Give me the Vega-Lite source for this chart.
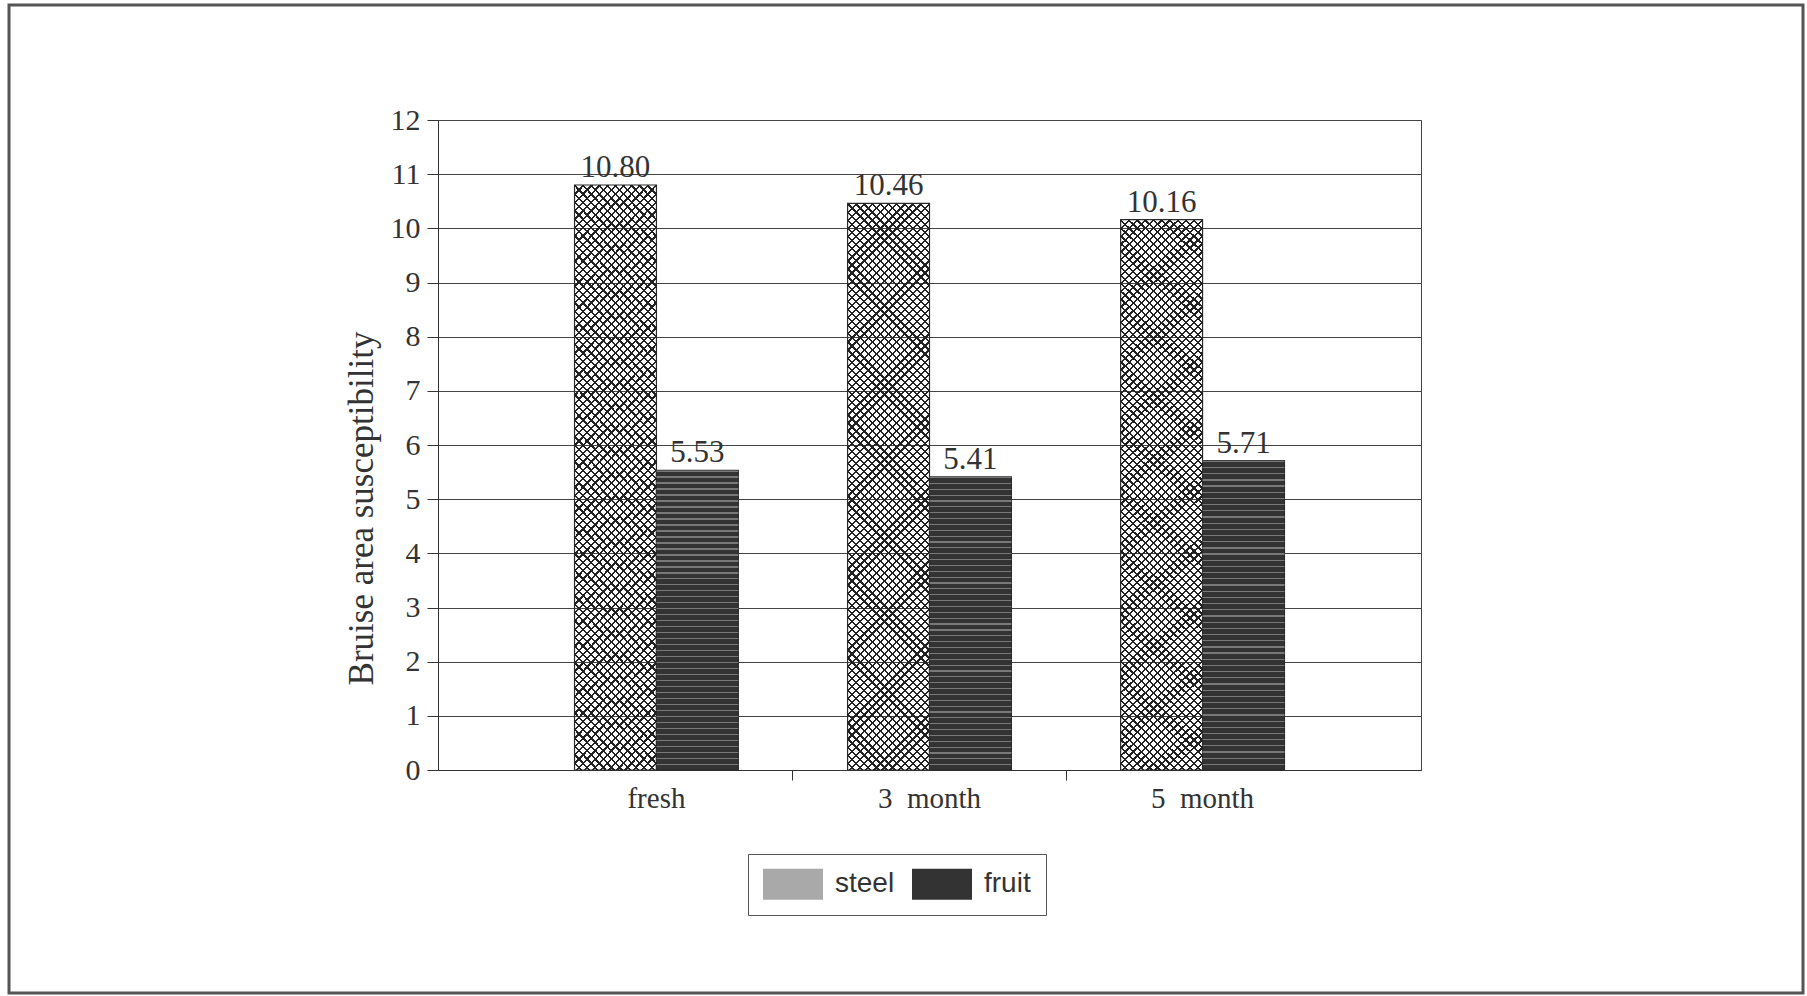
{
  "$schema": "https://vega.github.io/schema/vega-lite/v6.json",
  "width": 983,
  "height": 650,
  "autosize": {"type": "none"},
  "padding": {"left": 438, "top": 120, "right": 386, "bottom": 226},
  "background": "white",
  "config": {
    "view": {"stroke": "#444", "strokeWidth": 1},
    "legend": {"gradientVerticalMaxLength": 3000, "gradientVerticalMinLength": 10}
  },
  "data": {
    "values": [
      {"age": "fresh", "method": "steel", "value": 10.80},
      {"age": "fresh", "method": "fruit", "value": 5.53},
      {"age": "3 month", "method": "steel", "value": 10.46},
      {"age": "3 month", "method": "fruit", "value": 5.41},
      {"age": "5 month", "method": "steel", "value": 10.16},
      {"age": "5 month", "method": "fruit", "value": 5.71}
    ]
  },
  "encoding": {
    "x": {
      "field": "age", "type": "nominal", "sort": ["fresh", "3 month", "5 month"],
      "scale": {"paddingInner": 0.4, "paddingOuter": 0.5},
      "axis": {
        "title": null, "labelAngle": 0, "labelFont": "Liberation Serif", "labelFontSize": 29,
        "labelExpr": "replace(datum.label, ' ', '\u2002')",
        "labelColor": "#333", "tickSize": 10, "labelPadding": 4, "bandPosition": -0.3333,
        "tickOpacity": {"condition": {"test": "datum.value === 'fresh'", "value": 0}, "value": 1},
        "domainColor": "#333", "tickColor": "#333", "grid": false
      }
    },
    "xOffset": {
      "field": "method", "type": "nominal",
      "scale": {"domain": ["steel", "fruit"], "paddingInner": 0, "paddingOuter": 0}
    },
    "y": {
      "field": "value", "type": "quantitative",
      "scale": {"domain": [0, 12], "nice": false},
      "axis": {
        "values": [0, 1, 2, 3, 4, 5, 6, 7, 8, 9, 10, 11, 12],
        "grid": true, "gridColor": "#444", "gridWidth": 1, "gridOpacity": 1,
        "domainColor": "#333", "tickColor": "#333", "tickSize": 11, "labelPadding": 7,
        "labelFont": "Liberation Serif", "labelFontSize": 30, "labelColor": "#333",
        "title": "Bruise area susceptibility", "titleFont": "Liberation Serif", "titleFontSize": 35,
        "titleFontWeight": "normal", "titleColor": "#333", "titlePadding": 11, "titleY": 388
      }
    }
  },
  "layer": [
    {
      "mark": {"type": "bar", "stroke": "#2b2b2b", "strokeWidth": 1.2},
      "encoding": {
        "fillOpacity": {"condition": {"test": "datum.method === 'steel'", "value": 0}, "value": 1},
        "color": {
          "field": "method", "type": "nominal",
          "scale": {"domain": ["steel", "fruit"], "range": ["#a9a9a9", "#333333"]},
          "legend": {
            "title": null, "orient": "none", "legendX": 310, "legendY": 734, "direction": "horizontal",
            "strokeColor": "#555", "padding": 15,
            "symbolType": "M-2,-1.03H2V1.03H-2Z", "symbolSize": 900, "symbolOffset": 15, "symbolStrokeWidth": 0,
            "symbolOpacity": 1,
            "labelFont": "Liberation Sans", "labelFontSize": 28, "labelColor": "#333",
            "labelOffset": 27, "columnPadding": 17
          }
        }
      }
    },
    {
      "transform": [{"filter": "datum.method === 'steel'"}],
      "mark": {"type": "bar", "strokeWidth": 0, "fill": {"gradient": "linear", "x1": 0, "y1": 0, "x2": 0.16205, "y2": 1.1211, "stops": [
{"offset":0,"color":"#222"},{"offset":0.0035,"color":"#222"},{"offset":0.0035,"color":"rgba(0,0,0,0)"},{"offset":0.0125,"color":"rgba(0,0,0,0)"},
{"offset":0.0125,"color":"#222"},{"offset":0.016,"color":"#222"},{"offset":0.016,"color":"rgba(0,0,0,0)"},{"offset":0.025,"color":"rgba(0,0,0,0)"},
{"offset":0.025,"color":"#222"},{"offset":0.0285,"color":"#222"},{"offset":0.0285,"color":"rgba(0,0,0,0)"},{"offset":0.0375,"color":"rgba(0,0,0,0)"},
{"offset":0.0375,"color":"#222"},{"offset":0.041,"color":"#222"},{"offset":0.041,"color":"rgba(0,0,0,0)"},{"offset":0.05,"color":"rgba(0,0,0,0)"},
{"offset":0.05,"color":"#222"},{"offset":0.0535,"color":"#222"},{"offset":0.0535,"color":"rgba(0,0,0,0)"},{"offset":0.0625,"color":"rgba(0,0,0,0)"},
{"offset":0.0625,"color":"#222"},{"offset":0.066,"color":"#222"},{"offset":0.066,"color":"rgba(0,0,0,0)"},{"offset":0.075,"color":"rgba(0,0,0,0)"},
{"offset":0.075,"color":"#222"},{"offset":0.0785,"color":"#222"},{"offset":0.0785,"color":"rgba(0,0,0,0)"},{"offset":0.0875,"color":"rgba(0,0,0,0)"},
{"offset":0.0875,"color":"#222"},{"offset":0.091,"color":"#222"},{"offset":0.091,"color":"rgba(0,0,0,0)"},{"offset":0.1,"color":"rgba(0,0,0,0)"},
{"offset":0.1,"color":"#222"},{"offset":0.1035,"color":"#222"},{"offset":0.1035,"color":"rgba(0,0,0,0)"},{"offset":0.1125,"color":"rgba(0,0,0,0)"},
{"offset":0.1125,"color":"#222"},{"offset":0.116,"color":"#222"},{"offset":0.116,"color":"rgba(0,0,0,0)"},{"offset":0.125,"color":"rgba(0,0,0,0)"},
{"offset":0.125,"color":"#222"},{"offset":0.1285,"color":"#222"},{"offset":0.1285,"color":"rgba(0,0,0,0)"},{"offset":0.1375,"color":"rgba(0,0,0,0)"},
{"offset":0.1375,"color":"#222"},{"offset":0.141,"color":"#222"},{"offset":0.141,"color":"rgba(0,0,0,0)"},{"offset":0.15,"color":"rgba(0,0,0,0)"},
{"offset":0.15,"color":"#222"},{"offset":0.1535,"color":"#222"},{"offset":0.1535,"color":"rgba(0,0,0,0)"},{"offset":0.1625,"color":"rgba(0,0,0,0)"},
{"offset":0.1625,"color":"#222"},{"offset":0.166,"color":"#222"},{"offset":0.166,"color":"rgba(0,0,0,0)"},{"offset":0.175,"color":"rgba(0,0,0,0)"},
{"offset":0.175,"color":"#222"},{"offset":0.1785,"color":"#222"},{"offset":0.1785,"color":"rgba(0,0,0,0)"},{"offset":0.1875,"color":"rgba(0,0,0,0)"},
{"offset":0.1875,"color":"#222"},{"offset":0.191,"color":"#222"},{"offset":0.191,"color":"rgba(0,0,0,0)"},{"offset":0.2,"color":"rgba(0,0,0,0)"},
{"offset":0.2,"color":"#222"},{"offset":0.2035,"color":"#222"},{"offset":0.2035,"color":"rgba(0,0,0,0)"},{"offset":0.2125,"color":"rgba(0,0,0,0)"},
{"offset":0.2125,"color":"#222"},{"offset":0.216,"color":"#222"},{"offset":0.216,"color":"rgba(0,0,0,0)"},{"offset":0.225,"color":"rgba(0,0,0,0)"},
{"offset":0.225,"color":"#222"},{"offset":0.2285,"color":"#222"},{"offset":0.2285,"color":"rgba(0,0,0,0)"},{"offset":0.2375,"color":"rgba(0,0,0,0)"},
{"offset":0.2375,"color":"#222"},{"offset":0.241,"color":"#222"},{"offset":0.241,"color":"rgba(0,0,0,0)"},{"offset":0.25,"color":"rgba(0,0,0,0)"},
{"offset":0.25,"color":"#222"},{"offset":0.2535,"color":"#222"},{"offset":0.2535,"color":"rgba(0,0,0,0)"},{"offset":0.2625,"color":"rgba(0,0,0,0)"},
{"offset":0.2625,"color":"#222"},{"offset":0.266,"color":"#222"},{"offset":0.266,"color":"rgba(0,0,0,0)"},{"offset":0.275,"color":"rgba(0,0,0,0)"},
{"offset":0.275,"color":"#222"},{"offset":0.2785,"color":"#222"},{"offset":0.2785,"color":"rgba(0,0,0,0)"},{"offset":0.2875,"color":"rgba(0,0,0,0)"},
{"offset":0.2875,"color":"#222"},{"offset":0.291,"color":"#222"},{"offset":0.291,"color":"rgba(0,0,0,0)"},{"offset":0.3,"color":"rgba(0,0,0,0)"},
{"offset":0.3,"color":"#222"},{"offset":0.3035,"color":"#222"},{"offset":0.3035,"color":"rgba(0,0,0,0)"},{"offset":0.3125,"color":"rgba(0,0,0,0)"},
{"offset":0.3125,"color":"#222"},{"offset":0.316,"color":"#222"},{"offset":0.316,"color":"rgba(0,0,0,0)"},{"offset":0.325,"color":"rgba(0,0,0,0)"},
{"offset":0.325,"color":"#222"},{"offset":0.3285,"color":"#222"},{"offset":0.3285,"color":"rgba(0,0,0,0)"},{"offset":0.3375,"color":"rgba(0,0,0,0)"},
{"offset":0.3375,"color":"#222"},{"offset":0.341,"color":"#222"},{"offset":0.341,"color":"rgba(0,0,0,0)"},{"offset":0.35,"color":"rgba(0,0,0,0)"},
{"offset":0.35,"color":"#222"},{"offset":0.3535,"color":"#222"},{"offset":0.3535,"color":"rgba(0,0,0,0)"},{"offset":0.3625,"color":"rgba(0,0,0,0)"},
{"offset":0.3625,"color":"#222"},{"offset":0.366,"color":"#222"},{"offset":0.366,"color":"rgba(0,0,0,0)"},{"offset":0.375,"color":"rgba(0,0,0,0)"},
{"offset":0.375,"color":"#222"},{"offset":0.3785,"color":"#222"},{"offset":0.3785,"color":"rgba(0,0,0,0)"},{"offset":0.3875,"color":"rgba(0,0,0,0)"},
{"offset":0.3875,"color":"#222"},{"offset":0.391,"color":"#222"},{"offset":0.391,"color":"rgba(0,0,0,0)"},{"offset":0.4,"color":"rgba(0,0,0,0)"},
{"offset":0.4,"color":"#222"},{"offset":0.4035,"color":"#222"},{"offset":0.4035,"color":"rgba(0,0,0,0)"},{"offset":0.4125,"color":"rgba(0,0,0,0)"},
{"offset":0.4125,"color":"#222"},{"offset":0.416,"color":"#222"},{"offset":0.416,"color":"rgba(0,0,0,0)"},{"offset":0.425,"color":"rgba(0,0,0,0)"},
{"offset":0.425,"color":"#222"},{"offset":0.4285,"color":"#222"},{"offset":0.4285,"color":"rgba(0,0,0,0)"},{"offset":0.4375,"color":"rgba(0,0,0,0)"},
{"offset":0.4375,"color":"#222"},{"offset":0.441,"color":"#222"},{"offset":0.441,"color":"rgba(0,0,0,0)"},{"offset":0.45,"color":"rgba(0,0,0,0)"},
{"offset":0.45,"color":"#222"},{"offset":0.4535,"color":"#222"},{"offset":0.4535,"color":"rgba(0,0,0,0)"},{"offset":0.4625,"color":"rgba(0,0,0,0)"},
{"offset":0.4625,"color":"#222"},{"offset":0.466,"color":"#222"},{"offset":0.466,"color":"rgba(0,0,0,0)"},{"offset":0.475,"color":"rgba(0,0,0,0)"},
{"offset":0.475,"color":"#222"},{"offset":0.4785,"color":"#222"},{"offset":0.4785,"color":"rgba(0,0,0,0)"},{"offset":0.4875,"color":"rgba(0,0,0,0)"},
{"offset":0.4875,"color":"#222"},{"offset":0.491,"color":"#222"},{"offset":0.491,"color":"rgba(0,0,0,0)"},{"offset":0.5,"color":"rgba(0,0,0,0)"},
{"offset":0.5,"color":"#222"},{"offset":0.5035,"color":"#222"},{"offset":0.5035,"color":"rgba(0,0,0,0)"},{"offset":0.5125,"color":"rgba(0,0,0,0)"},
{"offset":0.5125,"color":"#222"},{"offset":0.516,"color":"#222"},{"offset":0.516,"color":"rgba(0,0,0,0)"},{"offset":0.525,"color":"rgba(0,0,0,0)"},
{"offset":0.525,"color":"#222"},{"offset":0.5285,"color":"#222"},{"offset":0.5285,"color":"rgba(0,0,0,0)"},{"offset":0.5375,"color":"rgba(0,0,0,0)"},
{"offset":0.5375,"color":"#222"},{"offset":0.541,"color":"#222"},{"offset":0.541,"color":"rgba(0,0,0,0)"},{"offset":0.55,"color":"rgba(0,0,0,0)"},
{"offset":0.55,"color":"#222"},{"offset":0.5535,"color":"#222"},{"offset":0.5535,"color":"rgba(0,0,0,0)"},{"offset":0.5625,"color":"rgba(0,0,0,0)"},
{"offset":0.5625,"color":"#222"},{"offset":0.566,"color":"#222"},{"offset":0.566,"color":"rgba(0,0,0,0)"},{"offset":0.575,"color":"rgba(0,0,0,0)"},
{"offset":0.575,"color":"#222"},{"offset":0.5785,"color":"#222"},{"offset":0.5785,"color":"rgba(0,0,0,0)"},{"offset":0.5875,"color":"rgba(0,0,0,0)"},
{"offset":0.5875,"color":"#222"},{"offset":0.591,"color":"#222"},{"offset":0.591,"color":"rgba(0,0,0,0)"},{"offset":0.6,"color":"rgba(0,0,0,0)"},
{"offset":0.6,"color":"#222"},{"offset":0.6035,"color":"#222"},{"offset":0.6035,"color":"rgba(0,0,0,0)"},{"offset":0.6125,"color":"rgba(0,0,0,0)"},
{"offset":0.6125,"color":"#222"},{"offset":0.616,"color":"#222"},{"offset":0.616,"color":"rgba(0,0,0,0)"},{"offset":0.625,"color":"rgba(0,0,0,0)"},
{"offset":0.625,"color":"#222"},{"offset":0.6285,"color":"#222"},{"offset":0.6285,"color":"rgba(0,0,0,0)"},{"offset":0.6375,"color":"rgba(0,0,0,0)"},
{"offset":0.6375,"color":"#222"},{"offset":0.641,"color":"#222"},{"offset":0.641,"color":"rgba(0,0,0,0)"},{"offset":0.65,"color":"rgba(0,0,0,0)"},
{"offset":0.65,"color":"#222"},{"offset":0.6535,"color":"#222"},{"offset":0.6535,"color":"rgba(0,0,0,0)"},{"offset":0.6625,"color":"rgba(0,0,0,0)"},
{"offset":0.6625,"color":"#222"},{"offset":0.666,"color":"#222"},{"offset":0.666,"color":"rgba(0,0,0,0)"},{"offset":0.675,"color":"rgba(0,0,0,0)"},
{"offset":0.675,"color":"#222"},{"offset":0.6785,"color":"#222"},{"offset":0.6785,"color":"rgba(0,0,0,0)"},{"offset":0.6875,"color":"rgba(0,0,0,0)"},
{"offset":0.6875,"color":"#222"},{"offset":0.691,"color":"#222"},{"offset":0.691,"color":"rgba(0,0,0,0)"},{"offset":0.7,"color":"rgba(0,0,0,0)"},
{"offset":0.7,"color":"#222"},{"offset":0.7035,"color":"#222"},{"offset":0.7035,"color":"rgba(0,0,0,0)"},{"offset":0.7125,"color":"rgba(0,0,0,0)"},
{"offset":0.7125,"color":"#222"},{"offset":0.716,"color":"#222"},{"offset":0.716,"color":"rgba(0,0,0,0)"},{"offset":0.725,"color":"rgba(0,0,0,0)"},
{"offset":0.725,"color":"#222"},{"offset":0.7285,"color":"#222"},{"offset":0.7285,"color":"rgba(0,0,0,0)"},{"offset":0.7375,"color":"rgba(0,0,0,0)"},
{"offset":0.7375,"color":"#222"},{"offset":0.741,"color":"#222"},{"offset":0.741,"color":"rgba(0,0,0,0)"},{"offset":0.75,"color":"rgba(0,0,0,0)"},
{"offset":0.75,"color":"#222"},{"offset":0.7535,"color":"#222"},{"offset":0.7535,"color":"rgba(0,0,0,0)"},{"offset":0.7625,"color":"rgba(0,0,0,0)"},
{"offset":0.7625,"color":"#222"},{"offset":0.766,"color":"#222"},{"offset":0.766,"color":"rgba(0,0,0,0)"},{"offset":0.775,"color":"rgba(0,0,0,0)"},
{"offset":0.775,"color":"#222"},{"offset":0.7785,"color":"#222"},{"offset":0.7785,"color":"rgba(0,0,0,0)"},{"offset":0.7875,"color":"rgba(0,0,0,0)"},
{"offset":0.7875,"color":"#222"},{"offset":0.791,"color":"#222"},{"offset":0.791,"color":"rgba(0,0,0,0)"},{"offset":0.8,"color":"rgba(0,0,0,0)"},
{"offset":0.8,"color":"#222"},{"offset":0.8035,"color":"#222"},{"offset":0.8035,"color":"rgba(0,0,0,0)"},{"offset":0.8125,"color":"rgba(0,0,0,0)"},
{"offset":0.8125,"color":"#222"},{"offset":0.816,"color":"#222"},{"offset":0.816,"color":"rgba(0,0,0,0)"},{"offset":0.825,"color":"rgba(0,0,0,0)"},
{"offset":0.825,"color":"#222"},{"offset":0.8285,"color":"#222"},{"offset":0.8285,"color":"rgba(0,0,0,0)"},{"offset":0.8375,"color":"rgba(0,0,0,0)"},
{"offset":0.8375,"color":"#222"},{"offset":0.841,"color":"#222"},{"offset":0.841,"color":"rgba(0,0,0,0)"},{"offset":0.85,"color":"rgba(0,0,0,0)"},
{"offset":0.85,"color":"#222"},{"offset":0.8535,"color":"#222"},{"offset":0.8535,"color":"rgba(0,0,0,0)"},{"offset":0.8625,"color":"rgba(0,0,0,0)"},
{"offset":0.8625,"color":"#222"},{"offset":0.866,"color":"#222"},{"offset":0.866,"color":"rgba(0,0,0,0)"},{"offset":0.875,"color":"rgba(0,0,0,0)"},
{"offset":0.875,"color":"#222"},{"offset":0.8785,"color":"#222"},{"offset":0.8785,"color":"rgba(0,0,0,0)"},{"offset":0.8875,"color":"rgba(0,0,0,0)"},
{"offset":0.8875,"color":"#222"},{"offset":0.891,"color":"#222"},{"offset":0.891,"color":"rgba(0,0,0,0)"},{"offset":0.9,"color":"rgba(0,0,0,0)"},
{"offset":0.9,"color":"#222"},{"offset":0.9035,"color":"#222"},{"offset":0.9035,"color":"rgba(0,0,0,0)"},{"offset":0.9125,"color":"rgba(0,0,0,0)"},
{"offset":0.9125,"color":"#222"},{"offset":0.916,"color":"#222"},{"offset":0.916,"color":"rgba(0,0,0,0)"},{"offset":0.925,"color":"rgba(0,0,0,0)"},
{"offset":0.925,"color":"#222"},{"offset":0.9285,"color":"#222"},{"offset":0.9285,"color":"rgba(0,0,0,0)"},{"offset":0.9375,"color":"rgba(0,0,0,0)"},
{"offset":0.9375,"color":"#222"},{"offset":0.941,"color":"#222"},{"offset":0.941,"color":"rgba(0,0,0,0)"},{"offset":0.95,"color":"rgba(0,0,0,0)"},
{"offset":0.95,"color":"#222"},{"offset":0.9535,"color":"#222"},{"offset":0.9535,"color":"rgba(0,0,0,0)"},{"offset":0.9625,"color":"rgba(0,0,0,0)"},
{"offset":0.9625,"color":"#222"},{"offset":0.966,"color":"#222"},{"offset":0.966,"color":"rgba(0,0,0,0)"},{"offset":0.975,"color":"rgba(0,0,0,0)"},
{"offset":0.975,"color":"#222"},{"offset":0.9785,"color":"#222"},{"offset":0.9785,"color":"rgba(0,0,0,0)"},{"offset":0.9875,"color":"rgba(0,0,0,0)"},
{"offset":0.9875,"color":"#222"},{"offset":0.991,"color":"#222"},{"offset":0.991,"color":"rgba(0,0,0,0)"},{"offset":1,"color":"rgba(0,0,0,0)"}
      ]}}
    },
    {
      "transform": [{"filter": "datum.method === 'steel'"}],
      "mark": {"type": "bar", "strokeWidth": 0, "fill": {"gradient": "linear", "x1": 1, "y1": 0, "x2": 0.83795, "y2": 1.1211, "stops": [
{"offset":0,"color":"#222"},{"offset":0.0035,"color":"#222"},{"offset":0.0035,"color":"rgba(0,0,0,0)"},{"offset":0.0125,"color":"rgba(0,0,0,0)"},
{"offset":0.0125,"color":"#222"},{"offset":0.016,"color":"#222"},{"offset":0.016,"color":"rgba(0,0,0,0)"},{"offset":0.025,"color":"rgba(0,0,0,0)"},
{"offset":0.025,"color":"#222"},{"offset":0.0285,"color":"#222"},{"offset":0.0285,"color":"rgba(0,0,0,0)"},{"offset":0.0375,"color":"rgba(0,0,0,0)"},
{"offset":0.0375,"color":"#222"},{"offset":0.041,"color":"#222"},{"offset":0.041,"color":"rgba(0,0,0,0)"},{"offset":0.05,"color":"rgba(0,0,0,0)"},
{"offset":0.05,"color":"#222"},{"offset":0.0535,"color":"#222"},{"offset":0.0535,"color":"rgba(0,0,0,0)"},{"offset":0.0625,"color":"rgba(0,0,0,0)"},
{"offset":0.0625,"color":"#222"},{"offset":0.066,"color":"#222"},{"offset":0.066,"color":"rgba(0,0,0,0)"},{"offset":0.075,"color":"rgba(0,0,0,0)"},
{"offset":0.075,"color":"#222"},{"offset":0.0785,"color":"#222"},{"offset":0.0785,"color":"rgba(0,0,0,0)"},{"offset":0.0875,"color":"rgba(0,0,0,0)"},
{"offset":0.0875,"color":"#222"},{"offset":0.091,"color":"#222"},{"offset":0.091,"color":"rgba(0,0,0,0)"},{"offset":0.1,"color":"rgba(0,0,0,0)"},
{"offset":0.1,"color":"#222"},{"offset":0.1035,"color":"#222"},{"offset":0.1035,"color":"rgba(0,0,0,0)"},{"offset":0.1125,"color":"rgba(0,0,0,0)"},
{"offset":0.1125,"color":"#222"},{"offset":0.116,"color":"#222"},{"offset":0.116,"color":"rgba(0,0,0,0)"},{"offset":0.125,"color":"rgba(0,0,0,0)"},
{"offset":0.125,"color":"#222"},{"offset":0.1285,"color":"#222"},{"offset":0.1285,"color":"rgba(0,0,0,0)"},{"offset":0.1375,"color":"rgba(0,0,0,0)"},
{"offset":0.1375,"color":"#222"},{"offset":0.141,"color":"#222"},{"offset":0.141,"color":"rgba(0,0,0,0)"},{"offset":0.15,"color":"rgba(0,0,0,0)"},
{"offset":0.15,"color":"#222"},{"offset":0.1535,"color":"#222"},{"offset":0.1535,"color":"rgba(0,0,0,0)"},{"offset":0.1625,"color":"rgba(0,0,0,0)"},
{"offset":0.1625,"color":"#222"},{"offset":0.166,"color":"#222"},{"offset":0.166,"color":"rgba(0,0,0,0)"},{"offset":0.175,"color":"rgba(0,0,0,0)"},
{"offset":0.175,"color":"#222"},{"offset":0.1785,"color":"#222"},{"offset":0.1785,"color":"rgba(0,0,0,0)"},{"offset":0.1875,"color":"rgba(0,0,0,0)"},
{"offset":0.1875,"color":"#222"},{"offset":0.191,"color":"#222"},{"offset":0.191,"color":"rgba(0,0,0,0)"},{"offset":0.2,"color":"rgba(0,0,0,0)"},
{"offset":0.2,"color":"#222"},{"offset":0.2035,"color":"#222"},{"offset":0.2035,"color":"rgba(0,0,0,0)"},{"offset":0.2125,"color":"rgba(0,0,0,0)"},
{"offset":0.2125,"color":"#222"},{"offset":0.216,"color":"#222"},{"offset":0.216,"color":"rgba(0,0,0,0)"},{"offset":0.225,"color":"rgba(0,0,0,0)"},
{"offset":0.225,"color":"#222"},{"offset":0.2285,"color":"#222"},{"offset":0.2285,"color":"rgba(0,0,0,0)"},{"offset":0.2375,"color":"rgba(0,0,0,0)"},
{"offset":0.2375,"color":"#222"},{"offset":0.241,"color":"#222"},{"offset":0.241,"color":"rgba(0,0,0,0)"},{"offset":0.25,"color":"rgba(0,0,0,0)"},
{"offset":0.25,"color":"#222"},{"offset":0.2535,"color":"#222"},{"offset":0.2535,"color":"rgba(0,0,0,0)"},{"offset":0.2625,"color":"rgba(0,0,0,0)"},
{"offset":0.2625,"color":"#222"},{"offset":0.266,"color":"#222"},{"offset":0.266,"color":"rgba(0,0,0,0)"},{"offset":0.275,"color":"rgba(0,0,0,0)"},
{"offset":0.275,"color":"#222"},{"offset":0.2785,"color":"#222"},{"offset":0.2785,"color":"rgba(0,0,0,0)"},{"offset":0.2875,"color":"rgba(0,0,0,0)"},
{"offset":0.2875,"color":"#222"},{"offset":0.291,"color":"#222"},{"offset":0.291,"color":"rgba(0,0,0,0)"},{"offset":0.3,"color":"rgba(0,0,0,0)"},
{"offset":0.3,"color":"#222"},{"offset":0.3035,"color":"#222"},{"offset":0.3035,"color":"rgba(0,0,0,0)"},{"offset":0.3125,"color":"rgba(0,0,0,0)"},
{"offset":0.3125,"color":"#222"},{"offset":0.316,"color":"#222"},{"offset":0.316,"color":"rgba(0,0,0,0)"},{"offset":0.325,"color":"rgba(0,0,0,0)"},
{"offset":0.325,"color":"#222"},{"offset":0.3285,"color":"#222"},{"offset":0.3285,"color":"rgba(0,0,0,0)"},{"offset":0.3375,"color":"rgba(0,0,0,0)"},
{"offset":0.3375,"color":"#222"},{"offset":0.341,"color":"#222"},{"offset":0.341,"color":"rgba(0,0,0,0)"},{"offset":0.35,"color":"rgba(0,0,0,0)"},
{"offset":0.35,"color":"#222"},{"offset":0.3535,"color":"#222"},{"offset":0.3535,"color":"rgba(0,0,0,0)"},{"offset":0.3625,"color":"rgba(0,0,0,0)"},
{"offset":0.3625,"color":"#222"},{"offset":0.366,"color":"#222"},{"offset":0.366,"color":"rgba(0,0,0,0)"},{"offset":0.375,"color":"rgba(0,0,0,0)"},
{"offset":0.375,"color":"#222"},{"offset":0.3785,"color":"#222"},{"offset":0.3785,"color":"rgba(0,0,0,0)"},{"offset":0.3875,"color":"rgba(0,0,0,0)"},
{"offset":0.3875,"color":"#222"},{"offset":0.391,"color":"#222"},{"offset":0.391,"color":"rgba(0,0,0,0)"},{"offset":0.4,"color":"rgba(0,0,0,0)"},
{"offset":0.4,"color":"#222"},{"offset":0.4035,"color":"#222"},{"offset":0.4035,"color":"rgba(0,0,0,0)"},{"offset":0.4125,"color":"rgba(0,0,0,0)"},
{"offset":0.4125,"color":"#222"},{"offset":0.416,"color":"#222"},{"offset":0.416,"color":"rgba(0,0,0,0)"},{"offset":0.425,"color":"rgba(0,0,0,0)"},
{"offset":0.425,"color":"#222"},{"offset":0.4285,"color":"#222"},{"offset":0.4285,"color":"rgba(0,0,0,0)"},{"offset":0.4375,"color":"rgba(0,0,0,0)"},
{"offset":0.4375,"color":"#222"},{"offset":0.441,"color":"#222"},{"offset":0.441,"color":"rgba(0,0,0,0)"},{"offset":0.45,"color":"rgba(0,0,0,0)"},
{"offset":0.45,"color":"#222"},{"offset":0.4535,"color":"#222"},{"offset":0.4535,"color":"rgba(0,0,0,0)"},{"offset":0.4625,"color":"rgba(0,0,0,0)"},
{"offset":0.4625,"color":"#222"},{"offset":0.466,"color":"#222"},{"offset":0.466,"color":"rgba(0,0,0,0)"},{"offset":0.475,"color":"rgba(0,0,0,0)"},
{"offset":0.475,"color":"#222"},{"offset":0.4785,"color":"#222"},{"offset":0.4785,"color":"rgba(0,0,0,0)"},{"offset":0.4875,"color":"rgba(0,0,0,0)"},
{"offset":0.4875,"color":"#222"},{"offset":0.491,"color":"#222"},{"offset":0.491,"color":"rgba(0,0,0,0)"},{"offset":0.5,"color":"rgba(0,0,0,0)"},
{"offset":0.5,"color":"#222"},{"offset":0.5035,"color":"#222"},{"offset":0.5035,"color":"rgba(0,0,0,0)"},{"offset":0.5125,"color":"rgba(0,0,0,0)"},
{"offset":0.5125,"color":"#222"},{"offset":0.516,"color":"#222"},{"offset":0.516,"color":"rgba(0,0,0,0)"},{"offset":0.525,"color":"rgba(0,0,0,0)"},
{"offset":0.525,"color":"#222"},{"offset":0.5285,"color":"#222"},{"offset":0.5285,"color":"rgba(0,0,0,0)"},{"offset":0.5375,"color":"rgba(0,0,0,0)"},
{"offset":0.5375,"color":"#222"},{"offset":0.541,"color":"#222"},{"offset":0.541,"color":"rgba(0,0,0,0)"},{"offset":0.55,"color":"rgba(0,0,0,0)"},
{"offset":0.55,"color":"#222"},{"offset":0.5535,"color":"#222"},{"offset":0.5535,"color":"rgba(0,0,0,0)"},{"offset":0.5625,"color":"rgba(0,0,0,0)"},
{"offset":0.5625,"color":"#222"},{"offset":0.566,"color":"#222"},{"offset":0.566,"color":"rgba(0,0,0,0)"},{"offset":0.575,"color":"rgba(0,0,0,0)"},
{"offset":0.575,"color":"#222"},{"offset":0.5785,"color":"#222"},{"offset":0.5785,"color":"rgba(0,0,0,0)"},{"offset":0.5875,"color":"rgba(0,0,0,0)"},
{"offset":0.5875,"color":"#222"},{"offset":0.591,"color":"#222"},{"offset":0.591,"color":"rgba(0,0,0,0)"},{"offset":0.6,"color":"rgba(0,0,0,0)"},
{"offset":0.6,"color":"#222"},{"offset":0.6035,"color":"#222"},{"offset":0.6035,"color":"rgba(0,0,0,0)"},{"offset":0.6125,"color":"rgba(0,0,0,0)"},
{"offset":0.6125,"color":"#222"},{"offset":0.616,"color":"#222"},{"offset":0.616,"color":"rgba(0,0,0,0)"},{"offset":0.625,"color":"rgba(0,0,0,0)"},
{"offset":0.625,"color":"#222"},{"offset":0.6285,"color":"#222"},{"offset":0.6285,"color":"rgba(0,0,0,0)"},{"offset":0.6375,"color":"rgba(0,0,0,0)"},
{"offset":0.6375,"color":"#222"},{"offset":0.641,"color":"#222"},{"offset":0.641,"color":"rgba(0,0,0,0)"},{"offset":0.65,"color":"rgba(0,0,0,0)"},
{"offset":0.65,"color":"#222"},{"offset":0.6535,"color":"#222"},{"offset":0.6535,"color":"rgba(0,0,0,0)"},{"offset":0.6625,"color":"rgba(0,0,0,0)"},
{"offset":0.6625,"color":"#222"},{"offset":0.666,"color":"#222"},{"offset":0.666,"color":"rgba(0,0,0,0)"},{"offset":0.675,"color":"rgba(0,0,0,0)"},
{"offset":0.675,"color":"#222"},{"offset":0.6785,"color":"#222"},{"offset":0.6785,"color":"rgba(0,0,0,0)"},{"offset":0.6875,"color":"rgba(0,0,0,0)"},
{"offset":0.6875,"color":"#222"},{"offset":0.691,"color":"#222"},{"offset":0.691,"color":"rgba(0,0,0,0)"},{"offset":0.7,"color":"rgba(0,0,0,0)"},
{"offset":0.7,"color":"#222"},{"offset":0.7035,"color":"#222"},{"offset":0.7035,"color":"rgba(0,0,0,0)"},{"offset":0.7125,"color":"rgba(0,0,0,0)"},
{"offset":0.7125,"color":"#222"},{"offset":0.716,"color":"#222"},{"offset":0.716,"color":"rgba(0,0,0,0)"},{"offset":0.725,"color":"rgba(0,0,0,0)"},
{"offset":0.725,"color":"#222"},{"offset":0.7285,"color":"#222"},{"offset":0.7285,"color":"rgba(0,0,0,0)"},{"offset":0.7375,"color":"rgba(0,0,0,0)"},
{"offset":0.7375,"color":"#222"},{"offset":0.741,"color":"#222"},{"offset":0.741,"color":"rgba(0,0,0,0)"},{"offset":0.75,"color":"rgba(0,0,0,0)"},
{"offset":0.75,"color":"#222"},{"offset":0.7535,"color":"#222"},{"offset":0.7535,"color":"rgba(0,0,0,0)"},{"offset":0.7625,"color":"rgba(0,0,0,0)"},
{"offset":0.7625,"color":"#222"},{"offset":0.766,"color":"#222"},{"offset":0.766,"color":"rgba(0,0,0,0)"},{"offset":0.775,"color":"rgba(0,0,0,0)"},
{"offset":0.775,"color":"#222"},{"offset":0.7785,"color":"#222"},{"offset":0.7785,"color":"rgba(0,0,0,0)"},{"offset":0.7875,"color":"rgba(0,0,0,0)"},
{"offset":0.7875,"color":"#222"},{"offset":0.791,"color":"#222"},{"offset":0.791,"color":"rgba(0,0,0,0)"},{"offset":0.8,"color":"rgba(0,0,0,0)"},
{"offset":0.8,"color":"#222"},{"offset":0.8035,"color":"#222"},{"offset":0.8035,"color":"rgba(0,0,0,0)"},{"offset":0.8125,"color":"rgba(0,0,0,0)"},
{"offset":0.8125,"color":"#222"},{"offset":0.816,"color":"#222"},{"offset":0.816,"color":"rgba(0,0,0,0)"},{"offset":0.825,"color":"rgba(0,0,0,0)"},
{"offset":0.825,"color":"#222"},{"offset":0.8285,"color":"#222"},{"offset":0.8285,"color":"rgba(0,0,0,0)"},{"offset":0.8375,"color":"rgba(0,0,0,0)"},
{"offset":0.8375,"color":"#222"},{"offset":0.841,"color":"#222"},{"offset":0.841,"color":"rgba(0,0,0,0)"},{"offset":0.85,"color":"rgba(0,0,0,0)"},
{"offset":0.85,"color":"#222"},{"offset":0.8535,"color":"#222"},{"offset":0.8535,"color":"rgba(0,0,0,0)"},{"offset":0.8625,"color":"rgba(0,0,0,0)"},
{"offset":0.8625,"color":"#222"},{"offset":0.866,"color":"#222"},{"offset":0.866,"color":"rgba(0,0,0,0)"},{"offset":0.875,"color":"rgba(0,0,0,0)"},
{"offset":0.875,"color":"#222"},{"offset":0.8785,"color":"#222"},{"offset":0.8785,"color":"rgba(0,0,0,0)"},{"offset":0.8875,"color":"rgba(0,0,0,0)"},
{"offset":0.8875,"color":"#222"},{"offset":0.891,"color":"#222"},{"offset":0.891,"color":"rgba(0,0,0,0)"},{"offset":0.9,"color":"rgba(0,0,0,0)"},
{"offset":0.9,"color":"#222"},{"offset":0.9035,"color":"#222"},{"offset":0.9035,"color":"rgba(0,0,0,0)"},{"offset":0.9125,"color":"rgba(0,0,0,0)"},
{"offset":0.9125,"color":"#222"},{"offset":0.916,"color":"#222"},{"offset":0.916,"color":"rgba(0,0,0,0)"},{"offset":0.925,"color":"rgba(0,0,0,0)"},
{"offset":0.925,"color":"#222"},{"offset":0.9285,"color":"#222"},{"offset":0.9285,"color":"rgba(0,0,0,0)"},{"offset":0.9375,"color":"rgba(0,0,0,0)"},
{"offset":0.9375,"color":"#222"},{"offset":0.941,"color":"#222"},{"offset":0.941,"color":"rgba(0,0,0,0)"},{"offset":0.95,"color":"rgba(0,0,0,0)"},
{"offset":0.95,"color":"#222"},{"offset":0.9535,"color":"#222"},{"offset":0.9535,"color":"rgba(0,0,0,0)"},{"offset":0.9625,"color":"rgba(0,0,0,0)"},
{"offset":0.9625,"color":"#222"},{"offset":0.966,"color":"#222"},{"offset":0.966,"color":"rgba(0,0,0,0)"},{"offset":0.975,"color":"rgba(0,0,0,0)"},
{"offset":0.975,"color":"#222"},{"offset":0.9785,"color":"#222"},{"offset":0.9785,"color":"rgba(0,0,0,0)"},{"offset":0.9875,"color":"rgba(0,0,0,0)"},
{"offset":0.9875,"color":"#222"},{"offset":0.991,"color":"#222"},{"offset":0.991,"color":"rgba(0,0,0,0)"},{"offset":1,"color":"rgba(0,0,0,0)"}
      ]}}
    },
    {
      "transform": [{"filter": "datum.method === 'fruit'"}],
      "mark": {"type": "bar", "strokeWidth": 0, "fill": {"gradient": "linear", "x1": 0, "y1": 0, "x2": 0, "y2": 1, "stops": [
        {"offset":0,"color":"rgba(190,190,190,0.5)"},{"offset":0.004,"color":"rgba(190,190,190,0.5)"},{"offset":0.004,"color":"rgba(0,0,0,0)"},{"offset":0.02,"color":"rgba(0,0,0,0)"},
        {"offset":0.02,"color":"rgba(190,190,190,0.5)"},{"offset":0.024,"color":"rgba(190,190,190,0.5)"},{"offset":0.024,"color":"rgba(0,0,0,0)"},{"offset":0.04,"color":"rgba(0,0,0,0)"},
        {"offset":0.04,"color":"rgba(190,190,190,0.5)"},{"offset":0.044,"color":"rgba(190,190,190,0.5)"},{"offset":0.044,"color":"rgba(0,0,0,0)"},{"offset":0.06,"color":"rgba(0,0,0,0)"},
        {"offset":0.06,"color":"rgba(190,190,190,0.5)"},{"offset":0.064,"color":"rgba(190,190,190,0.5)"},{"offset":0.064,"color":"rgba(0,0,0,0)"},{"offset":0.08,"color":"rgba(0,0,0,0)"},
        {"offset":0.08,"color":"rgba(190,190,190,0.5)"},{"offset":0.084,"color":"rgba(190,190,190,0.5)"},{"offset":0.084,"color":"rgba(0,0,0,0)"},{"offset":0.1,"color":"rgba(0,0,0,0)"},
        {"offset":0.1,"color":"rgba(190,190,190,0.5)"},{"offset":0.104,"color":"rgba(190,190,190,0.5)"},{"offset":0.104,"color":"rgba(0,0,0,0)"},{"offset":0.12,"color":"rgba(0,0,0,0)"},
        {"offset":0.12,"color":"rgba(190,190,190,0.5)"},{"offset":0.124,"color":"rgba(190,190,190,0.5)"},{"offset":0.124,"color":"rgba(0,0,0,0)"},{"offset":0.14,"color":"rgba(0,0,0,0)"},
        {"offset":0.14,"color":"rgba(190,190,190,0.5)"},{"offset":0.144,"color":"rgba(190,190,190,0.5)"},{"offset":0.144,"color":"rgba(0,0,0,0)"},{"offset":0.16,"color":"rgba(0,0,0,0)"},
        {"offset":0.16,"color":"rgba(190,190,190,0.5)"},{"offset":0.164,"color":"rgba(190,190,190,0.5)"},{"offset":0.164,"color":"rgba(0,0,0,0)"},{"offset":0.18,"color":"rgba(0,0,0,0)"},
        {"offset":0.18,"color":"rgba(190,190,190,0.5)"},{"offset":0.184,"color":"rgba(190,190,190,0.5)"},{"offset":0.184,"color":"rgba(0,0,0,0)"},{"offset":0.2,"color":"rgba(0,0,0,0)"},
        {"offset":0.2,"color":"rgba(190,190,190,0.5)"},{"offset":0.204,"color":"rgba(190,190,190,0.5)"},{"offset":0.204,"color":"rgba(0,0,0,0)"},{"offset":0.22,"color":"rgba(0,0,0,0)"},
        {"offset":0.22,"color":"rgba(190,190,190,0.5)"},{"offset":0.224,"color":"rgba(190,190,190,0.5)"},{"offset":0.224,"color":"rgba(0,0,0,0)"},{"offset":0.24,"color":"rgba(0,0,0,0)"},
        {"offset":0.24,"color":"rgba(190,190,190,0.5)"},{"offset":0.244,"color":"rgba(190,190,190,0.5)"},{"offset":0.244,"color":"rgba(0,0,0,0)"},{"offset":0.26,"color":"rgba(0,0,0,0)"},
        {"offset":0.26,"color":"rgba(190,190,190,0.5)"},{"offset":0.264,"color":"rgba(190,190,190,0.5)"},{"offset":0.264,"color":"rgba(0,0,0,0)"},{"offset":0.28,"color":"rgba(0,0,0,0)"},
        {"offset":0.28,"color":"rgba(190,190,190,0.5)"},{"offset":0.284,"color":"rgba(190,190,190,0.5)"},{"offset":0.284,"color":"rgba(0,0,0,0)"},{"offset":0.3,"color":"rgba(0,0,0,0)"},
        {"offset":0.3,"color":"rgba(190,190,190,0.5)"},{"offset":0.304,"color":"rgba(190,190,190,0.5)"},{"offset":0.304,"color":"rgba(0,0,0,0)"},{"offset":0.32,"color":"rgba(0,0,0,0)"},
        {"offset":0.32,"color":"rgba(190,190,190,0.5)"},{"offset":0.324,"color":"rgba(190,190,190,0.5)"},{"offset":0.324,"color":"rgba(0,0,0,0)"},{"offset":0.34,"color":"rgba(0,0,0,0)"},
        {"offset":0.34,"color":"rgba(190,190,190,0.5)"},{"offset":0.344,"color":"rgba(190,190,190,0.5)"},{"offset":0.344,"color":"rgba(0,0,0,0)"},{"offset":0.36,"color":"rgba(0,0,0,0)"},
        {"offset":0.36,"color":"rgba(190,190,190,0.5)"},{"offset":0.364,"color":"rgba(190,190,190,0.5)"},{"offset":0.364,"color":"rgba(0,0,0,0)"},{"offset":0.38,"color":"rgba(0,0,0,0)"},
        {"offset":0.38,"color":"rgba(190,190,190,0.5)"},{"offset":0.384,"color":"rgba(190,190,190,0.5)"},{"offset":0.384,"color":"rgba(0,0,0,0)"},{"offset":0.4,"color":"rgba(0,0,0,0)"},
        {"offset":0.4,"color":"rgba(190,190,190,0.5)"},{"offset":0.404,"color":"rgba(190,190,190,0.5)"},{"offset":0.404,"color":"rgba(0,0,0,0)"},{"offset":0.42,"color":"rgba(0,0,0,0)"},
        {"offset":0.42,"color":"rgba(190,190,190,0.5)"},{"offset":0.424,"color":"rgba(190,190,190,0.5)"},{"offset":0.424,"color":"rgba(0,0,0,0)"},{"offset":0.44,"color":"rgba(0,0,0,0)"},
        {"offset":0.44,"color":"rgba(190,190,190,0.5)"},{"offset":0.444,"color":"rgba(190,190,190,0.5)"},{"offset":0.444,"color":"rgba(0,0,0,0)"},{"offset":0.46,"color":"rgba(0,0,0,0)"},
        {"offset":0.46,"color":"rgba(190,190,190,0.5)"},{"offset":0.464,"color":"rgba(190,190,190,0.5)"},{"offset":0.464,"color":"rgba(0,0,0,0)"},{"offset":0.48,"color":"rgba(0,0,0,0)"},
        {"offset":0.48,"color":"rgba(190,190,190,0.5)"},{"offset":0.484,"color":"rgba(190,190,190,0.5)"},{"offset":0.484,"color":"rgba(0,0,0,0)"},{"offset":0.5,"color":"rgba(0,0,0,0)"},
        {"offset":0.5,"color":"rgba(190,190,190,0.5)"},{"offset":0.504,"color":"rgba(190,190,190,0.5)"},{"offset":0.504,"color":"rgba(0,0,0,0)"},{"offset":0.52,"color":"rgba(0,0,0,0)"},
        {"offset":0.52,"color":"rgba(190,190,190,0.5)"},{"offset":0.524,"color":"rgba(190,190,190,0.5)"},{"offset":0.524,"color":"rgba(0,0,0,0)"},{"offset":0.54,"color":"rgba(0,0,0,0)"},
        {"offset":0.54,"color":"rgba(190,190,190,0.5)"},{"offset":0.544,"color":"rgba(190,190,190,0.5)"},{"offset":0.544,"color":"rgba(0,0,0,0)"},{"offset":0.56,"color":"rgba(0,0,0,0)"},
        {"offset":0.56,"color":"rgba(190,190,190,0.5)"},{"offset":0.564,"color":"rgba(190,190,190,0.5)"},{"offset":0.564,"color":"rgba(0,0,0,0)"},{"offset":0.58,"color":"rgba(0,0,0,0)"},
        {"offset":0.58,"color":"rgba(190,190,190,0.5)"},{"offset":0.584,"color":"rgba(190,190,190,0.5)"},{"offset":0.584,"color":"rgba(0,0,0,0)"},{"offset":0.6,"color":"rgba(0,0,0,0)"},
        {"offset":0.6,"color":"rgba(190,190,190,0.5)"},{"offset":0.604,"color":"rgba(190,190,190,0.5)"},{"offset":0.604,"color":"rgba(0,0,0,0)"},{"offset":0.62,"color":"rgba(0,0,0,0)"},
        {"offset":0.62,"color":"rgba(190,190,190,0.5)"},{"offset":0.624,"color":"rgba(190,190,190,0.5)"},{"offset":0.624,"color":"rgba(0,0,0,0)"},{"offset":0.64,"color":"rgba(0,0,0,0)"},
        {"offset":0.64,"color":"rgba(190,190,190,0.5)"},{"offset":0.644,"color":"rgba(190,190,190,0.5)"},{"offset":0.644,"color":"rgba(0,0,0,0)"},{"offset":0.66,"color":"rgba(0,0,0,0)"},
        {"offset":0.66,"color":"rgba(190,190,190,0.5)"},{"offset":0.664,"color":"rgba(190,190,190,0.5)"},{"offset":0.664,"color":"rgba(0,0,0,0)"},{"offset":0.68,"color":"rgba(0,0,0,0)"},
        {"offset":0.68,"color":"rgba(190,190,190,0.5)"},{"offset":0.684,"color":"rgba(190,190,190,0.5)"},{"offset":0.684,"color":"rgba(0,0,0,0)"},{"offset":0.7,"color":"rgba(0,0,0,0)"},
        {"offset":0.7,"color":"rgba(190,190,190,0.5)"},{"offset":0.704,"color":"rgba(190,190,190,0.5)"},{"offset":0.704,"color":"rgba(0,0,0,0)"},{"offset":0.72,"color":"rgba(0,0,0,0)"},
        {"offset":0.72,"color":"rgba(190,190,190,0.5)"},{"offset":0.724,"color":"rgba(190,190,190,0.5)"},{"offset":0.724,"color":"rgba(0,0,0,0)"},{"offset":0.74,"color":"rgba(0,0,0,0)"},
        {"offset":0.74,"color":"rgba(190,190,190,0.5)"},{"offset":0.744,"color":"rgba(190,190,190,0.5)"},{"offset":0.744,"color":"rgba(0,0,0,0)"},{"offset":0.76,"color":"rgba(0,0,0,0)"},
        {"offset":0.76,"color":"rgba(190,190,190,0.5)"},{"offset":0.764,"color":"rgba(190,190,190,0.5)"},{"offset":0.764,"color":"rgba(0,0,0,0)"},{"offset":0.78,"color":"rgba(0,0,0,0)"},
        {"offset":0.78,"color":"rgba(190,190,190,0.5)"},{"offset":0.784,"color":"rgba(190,190,190,0.5)"},{"offset":0.784,"color":"rgba(0,0,0,0)"},{"offset":0.8,"color":"rgba(0,0,0,0)"},
        {"offset":0.8,"color":"rgba(190,190,190,0.5)"},{"offset":0.804,"color":"rgba(190,190,190,0.5)"},{"offset":0.804,"color":"rgba(0,0,0,0)"},{"offset":0.82,"color":"rgba(0,0,0,0)"},
        {"offset":0.82,"color":"rgba(190,190,190,0.5)"},{"offset":0.824,"color":"rgba(190,190,190,0.5)"},{"offset":0.824,"color":"rgba(0,0,0,0)"},{"offset":0.84,"color":"rgba(0,0,0,0)"},
        {"offset":0.84,"color":"rgba(190,190,190,0.5)"},{"offset":0.844,"color":"rgba(190,190,190,0.5)"},{"offset":0.844,"color":"rgba(0,0,0,0)"},{"offset":0.86,"color":"rgba(0,0,0,0)"},
        {"offset":0.86,"color":"rgba(190,190,190,0.5)"},{"offset":0.864,"color":"rgba(190,190,190,0.5)"},{"offset":0.864,"color":"rgba(0,0,0,0)"},{"offset":0.88,"color":"rgba(0,0,0,0)"},
        {"offset":0.88,"color":"rgba(190,190,190,0.5)"},{"offset":0.884,"color":"rgba(190,190,190,0.5)"},{"offset":0.884,"color":"rgba(0,0,0,0)"},{"offset":0.9,"color":"rgba(0,0,0,0)"},
        {"offset":0.9,"color":"rgba(190,190,190,0.5)"},{"offset":0.904,"color":"rgba(190,190,190,0.5)"},{"offset":0.904,"color":"rgba(0,0,0,0)"},{"offset":0.92,"color":"rgba(0,0,0,0)"},
        {"offset":0.92,"color":"rgba(190,190,190,0.5)"},{"offset":0.924,"color":"rgba(190,190,190,0.5)"},{"offset":0.924,"color":"rgba(0,0,0,0)"},{"offset":0.94,"color":"rgba(0,0,0,0)"},
        {"offset":0.94,"color":"rgba(190,190,190,0.5)"},{"offset":0.944,"color":"rgba(190,190,190,0.5)"},{"offset":0.944,"color":"rgba(0,0,0,0)"},{"offset":0.96,"color":"rgba(0,0,0,0)"},
        {"offset":0.96,"color":"rgba(190,190,190,0.5)"},{"offset":0.964,"color":"rgba(190,190,190,0.5)"},{"offset":0.964,"color":"rgba(0,0,0,0)"},{"offset":0.98,"color":"rgba(0,0,0,0)"},
        {"offset":0.98,"color":"rgba(190,190,190,0.5)"},{"offset":0.984,"color":"rgba(190,190,190,0.5)"},{"offset":0.984,"color":"rgba(0,0,0,0)"},{"offset":1,"color":"rgba(0,0,0,0)"}
      ]}}
    },
    {
      "mark": {"type": "text", "baseline": "alphabetic", "dy": -8, "font": "Liberation Serif", "fontSize": 31, "fill": "#333"},
      "encoding": {"text": {"field": "value", "type": "quantitative", "format": ".2f"}}
    },
    {
      "mark": {"type": "text", "text": ""},
      "encoding": {
        "fill": {
          "field": "value", "type": "quantitative",
          "scale": {"range": ["rgba(255,255,255,0)", "rgba(255,255,255,0)"]},
          "legend": {
            "orient": "none", "legendX": -429, "legendY": -115, "direction": "vertical", "title": null,
            "gradientLength": 988, "gradientThickness": 1794, "gradientStrokeColor": "#555",
            "gradientStrokeWidth": 3, "labelOpacity": 0, "labelFontSize": 1, "padding": 0, "tickCount": 2
          }
        }
      }
    }
  ]
}
